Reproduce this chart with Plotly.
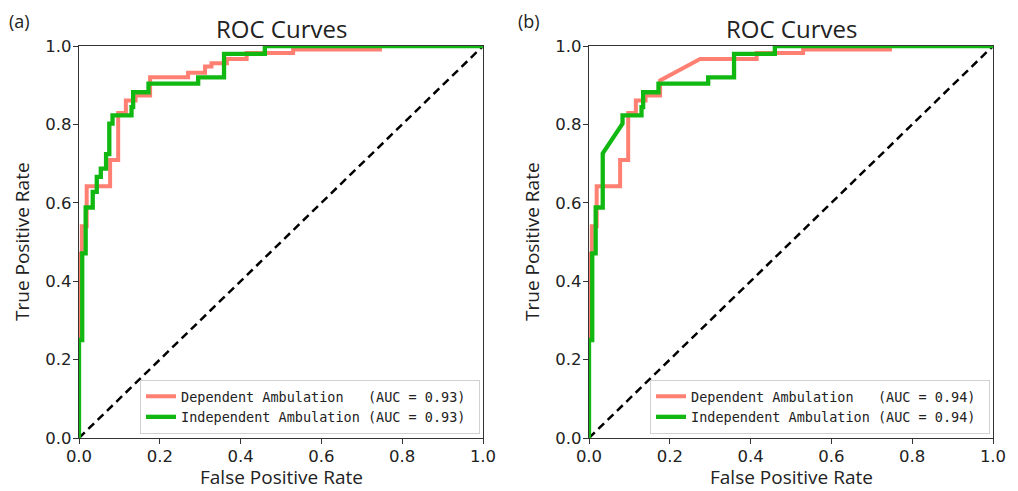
import plotly.graph_objects as go

# ---------------- data ----------------
# Panel (a)
a_dep_fpr = [0.0, 0.0, 0.007, 0.007, 0.019, 0.019, 0.077, 0.077, 0.097, 0.097, 0.116, 0.116, 0.14, 0.14,
             0.176, 0.176, 0.27, 0.27, 0.312, 0.312, 0.328, 0.328, 0.366, 0.366, 0.415, 0.415, 0.53, 0.53,
             0.745, 0.745, 1.0]
a_dep_tpr = [0.0, 0.47, 0.47, 0.54, 0.54, 0.642, 0.642, 0.709, 0.709, 0.829, 0.829, 0.861, 0.861, 0.874,
             0.874, 0.920, 0.920, 0.932, 0.932, 0.948, 0.948, 0.956, 0.956, 0.967, 0.967, 0.982, 0.982, 0.991,
             0.991, 1.0, 1.0]
a_ind_fpr = [0.0, 0.0, 0.008, 0.008, 0.0165, 0.0165, 0.034, 0.034, 0.044, 0.044, 0.054, 0.054, 0.067, 0.067,
             0.075, 0.075, 0.083, 0.083, 0.130, 0.130, 0.134, 0.134, 0.172, 0.172, 0.295, 0.295, 0.359, 0.359,
             0.46, 0.46, 1.0]
a_ind_tpr = [0.0, 0.25, 0.25, 0.471, 0.471, 0.588, 0.588, 0.628, 0.628, 0.666, 0.666, 0.687, 0.687, 0.724,
             0.724, 0.802, 0.802, 0.823, 0.823, 0.844, 0.844, 0.882, 0.882, 0.904, 0.904, 0.920, 0.920, 0.980,
             0.980, 1.0, 1.0]

# Panel (b)
b_dep_fpr = [0.0, 0.0, 0.007, 0.007, 0.019, 0.019, 0.077, 0.077, 0.097, 0.097, 0.116, 0.116, 0.14, 0.14,
             0.176, 0.176, 0.275, 0.415, 0.415, 0.53, 0.53, 0.745, 0.745, 1.0]
b_dep_tpr = [0.0, 0.47, 0.47, 0.54, 0.54, 0.642, 0.642, 0.709, 0.709, 0.829, 0.829, 0.861, 0.861, 0.874,
             0.874, 0.912, 0.967, 0.967, 0.982, 0.982, 0.991, 0.991, 1.0, 1.0]
b_ind_fpr = [0.0, 0.0, 0.008, 0.008, 0.0165, 0.0165, 0.034, 0.034, 0.083, 0.083, 0.130, 0.130, 0.134, 0.134,
             0.172, 0.172, 0.295, 0.295, 0.359, 0.359, 0.46, 0.46, 1.0]
b_ind_tpr = [0.0, 0.25, 0.25, 0.471, 0.471, 0.588, 0.588, 0.726, 0.802, 0.823, 0.823, 0.844, 0.844, 0.882,
             0.882, 0.904, 0.904, 0.920, 0.920, 0.980, 0.980, 1.0, 1.0]

auc_a = [0.93, 0.93]
auc_b = [0.94, 0.94]
series_names = ["Dependent Ambulation", "Independent Ambulation"]
panel_labels = ["(a)", "(b)"]
chance_x = [0.0, 1.0]
chance_y = [0.0, 1.0]
tick_vals = [0.0, 0.2, 0.4, 0.6, 0.8, 1.0]
tick_text = ["0.0", "0.2", "0.4", "0.6", "0.8", "1.0"]

# ---------------- styling ----------------
RED = "#FF8072"
GREEN = "#12B812"
OFF = 8            # page body margin of the browser
W, H = 1018 - OFF, 491 - OFF
NB = "\u00a0"


def xp(px):
    return (px - OFF) / W


def yp(py):
    return 1 - (py - OFF) / H


def legend_name(name, auc):
    pad = 23 - len(name)
    return name + NB * pad + "(AUC = %.2f)" % auc + NB


fig = go.Figure()

panels = [
    (a_dep_fpr, a_dep_tpr, a_ind_fpr, a_ind_tpr, auc_a, "x", "y", "legend"),
    (b_dep_fpr, b_dep_tpr, b_ind_fpr, b_ind_tpr, auc_b, "x2", "y2", "legend2"),
]

for dfpr, dtpr, ifpr, itpr, aucs, xa, ya, lg in panels:
    fig.add_trace(go.Scatter(x=chance_x, y=chance_y, mode="lines", xaxis=xa, yaxis=ya,
                             line=dict(color="black", width=2.5, dash="8px,5px"),
                             showlegend=False, hoverinfo="skip"))
    fig.add_trace(go.Scatter(x=dfpr, y=dtpr, mode="lines", xaxis=xa, yaxis=ya,
                             name=legend_name(series_names[0], aucs[0]), legend=lg,
                             line=dict(color=RED, width=4)))
    fig.add_trace(go.Scatter(x=ifpr, y=itpr, mode="lines", xaxis=xa, yaxis=ya,
                             name=legend_name(series_names[1], aucs[1]), legend=lg,
                             line=dict(color=GREEN, width=4.3)))

x_dom = [[xp(79), xp(483)], [xp(589), xp(993)]]
y_dom = [yp(438), yp(46)]

axis_common = dict(range=[0, 1], tickvals=tick_vals, ticktext=tick_text, automargin=False,
                   showline=True, linecolor="#333333", linewidth=1.2, mirror=True,
                   ticks="outside", ticklen=5, tickwidth=1.2, tickcolor="#333333",
                   ticklabelstandoff=-2,
                   showgrid=False, zeroline=False, fixedrange=True,
                   tickfont=dict(family="DejaVu Sans", size=16.5, color="#222222"))

legend_common = dict(bgcolor="rgba(255,255,255,0.9)", bordercolor="#d0d0d0", borderwidth=1,
                     font=dict(family="DejaVu Sans Mono", size=13.5, color="#222222"),
                     xanchor="right", yanchor="bottom", tracegroupgap=0, itemwidth=30)

fig.update_layout(
    template="none",
    width=W, height=H, autosize=False,
    margin=dict(l=0, r=0, t=0, b=0, pad=0, autoexpand=False),
    paper_bgcolor="white", plot_bgcolor="white",
    xaxis=dict(domain=x_dom[0], anchor="y", **axis_common),
    yaxis=dict(domain=y_dom, anchor="x", **axis_common),
    xaxis2=dict(domain=x_dom[1], anchor="y2", **axis_common),
    yaxis2=dict(domain=y_dom, anchor="x2", **axis_common),
    legend=dict(x=xp(480), y=yp(434), **legend_common),
    legend2=dict(x=xp(990), y=yp(434), **legend_common),
)

label_font = dict(family="Open Sans", size=19, color="#222222")
panel_left = [79, 589]
for i in range(2):
    cx = (x_dom[i][0] + x_dom[i][1]) / 2
    fig.add_annotation(text="ROC Curves", x=cx, y=yp(29), xref="paper", yref="paper",
                       showarrow=False, xanchor="center", yanchor="middle",
                       font=dict(family="Open Sans", size=24, color="#222222"))
    fig.add_annotation(text="False Positive Rate", x=cx, y=yp(491), xref="paper", yref="paper",
                       showarrow=False, xanchor="center", yanchor="bottom", font=label_font,
                       borderpad=0)
    fig.add_annotation(text="True Positive Rate", x=xp(panel_left[i] - 57), y=(y_dom[0] + y_dom[1]) / 2,
                       xref="paper", yref="paper", textangle=-90,
                       showarrow=False, xanchor="center", yanchor="middle", font=label_font)
    fig.add_annotation(text=panel_labels[i], x=xp(panel_left[i] - 60), y=yp(21),
                       xref="paper", yref="paper", showarrow=False, xanchor="center", yanchor="middle",
                       font=dict(family="Open Sans", size=18, color="#222222"))

fig.write_html("out.html")
